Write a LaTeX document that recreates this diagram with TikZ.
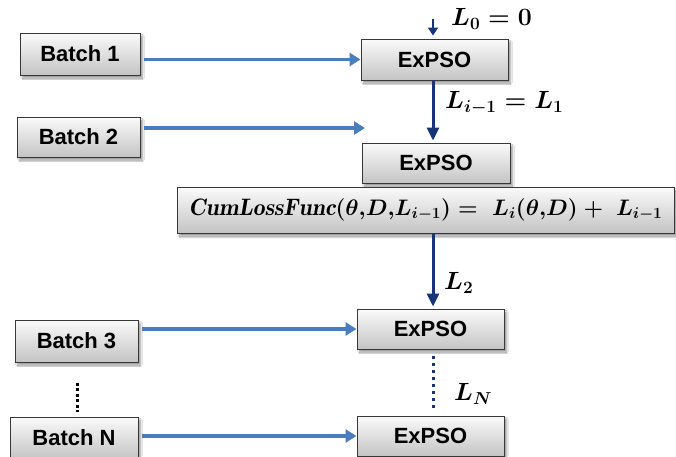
\documentclass[tikz,border=0pt]{standalone}
\usepackage{amsmath}
\usepackage{fontspec}
\newfontfamily\boxfont{Liberation Sans}
\usetikzlibrary{arrows.meta,shadows.blur,calc}

\definecolor{boxedge}{RGB}{55,55,55}
\definecolor{boxtop}{RGB}{250,250,250}
\definecolor{boxbottom}{RGB}{196,196,196}
\definecolor{feedblue}{RGB}{74,124,192}
\definecolor{lossnavy}{RGB}{22,52,120}

\newcommand{\lossmath}[1]{\mbox{\boldmath$#1$}}

\tikzset{
  procbox/.style={draw=boxedge, line width=1pt, rectangle,
    top color=boxtop, bottom color=boxbottom,
    blur shadow={shadow xshift=2.5pt, shadow yshift=-3pt, shadow blur steps=6, shadow opacity=40},
    font=\boxfont\bfseries\fontsize{22}{26}\selectfont, inner sep=0pt},
  feed/.style={draw=feedblue, line width=3.5pt, -{Triangle[length=11pt,width=13pt]}, shorten <=3pt},
  carry/.style={draw=lossnavy, line width=3pt, -{Triangle[length=13pt,width=12pt]}},
  carrydots/.style={draw=lossnavy, line width=3pt, dash pattern=on 3pt off 4pt},
  gapdots/.style={draw=black, line width=3pt, dash pattern=on 3pt off 2.5pt},
  losslabel/.style={anchor=west, inner sep=0pt, font=\fontsize{24}{28}\selectfont}
}

\begin{document}
\begin{tikzpicture}[x=1pt, y=-1pt]
  \useasboundingbox (0,0) rectangle (676,456);
  \fill[white] (0,0) rectangle (676,456);

  % batch inputs
  \node[procbox, minimum width=120pt, minimum height=42pt] (b1) at (80,54) {Batch 1};
  \node[procbox, minimum width=123pt, minimum height=40pt] (b2) at (78.5,137) {Batch 2};
  \node[procbox, minimum width=123pt, minimum height=42pt] (b3) at (76.5,341) {Batch 3};
  \node[procbox, minimum width=128pt, minimum height=42pt] (bN) at (74,438) {Batch N};

  % optimiser stages
  \node[procbox, minimum width=147pt, minimum height=41pt] (e1) at (434.5,59.5) {ExPSO};
  \node[procbox, minimum width=148pt, minimum height=40pt] (e2) at (436,163) {ExPSO};
  \node[procbox, minimum width=497pt, minimum height=46pt,
        font=\fontsize{22}{26}\selectfont] (cum) at (425.5,210)
    {\resizebox{474pt}{!}{\lossmath{\mathit{CumLossFunc}(\theta{,}D{,}L_{i-1}) =\; L_i(\theta{,}D) +\; L_{i-1}}}};
  \node[procbox, minimum width=147pt, minimum height=40pt] (e3) at (430.5,329) {ExPSO};
  \node[procbox, minimum width=147pt, minimum height=40pt] (e4) at (430.5,436) {ExPSO};

  % batches feeding the stages
  \coordinate (a2end) at (365,128);
  \draw[feed] (b1.east |- e1.west) -- (e1.west);
  \draw[feed] (b2.east |- a2end) -- (a2end);
  \draw[feed] (b3.east |- e3.west) -- (e3.west);
  \draw[feed] (bN.east |- e4.west) -- (e4.west);

  % loss carried from stage to stage
  \coordinate (l0) at (433,19);
  \coordinate (gcol) at (77,0);
  \draw[carry, -{Triangle[length=8pt,width=10pt]}, line width=2.5pt, shorten >=3pt] (l0) -- (l0 |- e1.north);
  \draw[carry, shorten >=2pt] (e1.south -| l0) -- (l0 |- e2.north);
  \draw[carry, shorten >=2pt] (cum.south -| l0) -- (l0 |- e3.north);
  \draw[carrydots, shorten <=6pt, shorten >=7pt] (e3.south -| l0) -- (l0 |- e4.north);
  \draw[gapdots, shorten <=20pt, shorten >=5pt] (b3.south -| gcol) -- (gcol |- bN.north);

  % loss labels
  \node[losslabel] (lab0) at (451,19) {\lossmath{L_0 = 0}};
  \node[losslabel] (lab1) at (445,103) {\lossmath{L_{i-1} = L_1}};
  \node[losslabel] (lab2) at (444,283) {\lossmath{L_2}};
  \node[losslabel] (labN) at (454,394) {\lossmath{L_N}};
\end{tikzpicture}
\end{document}
